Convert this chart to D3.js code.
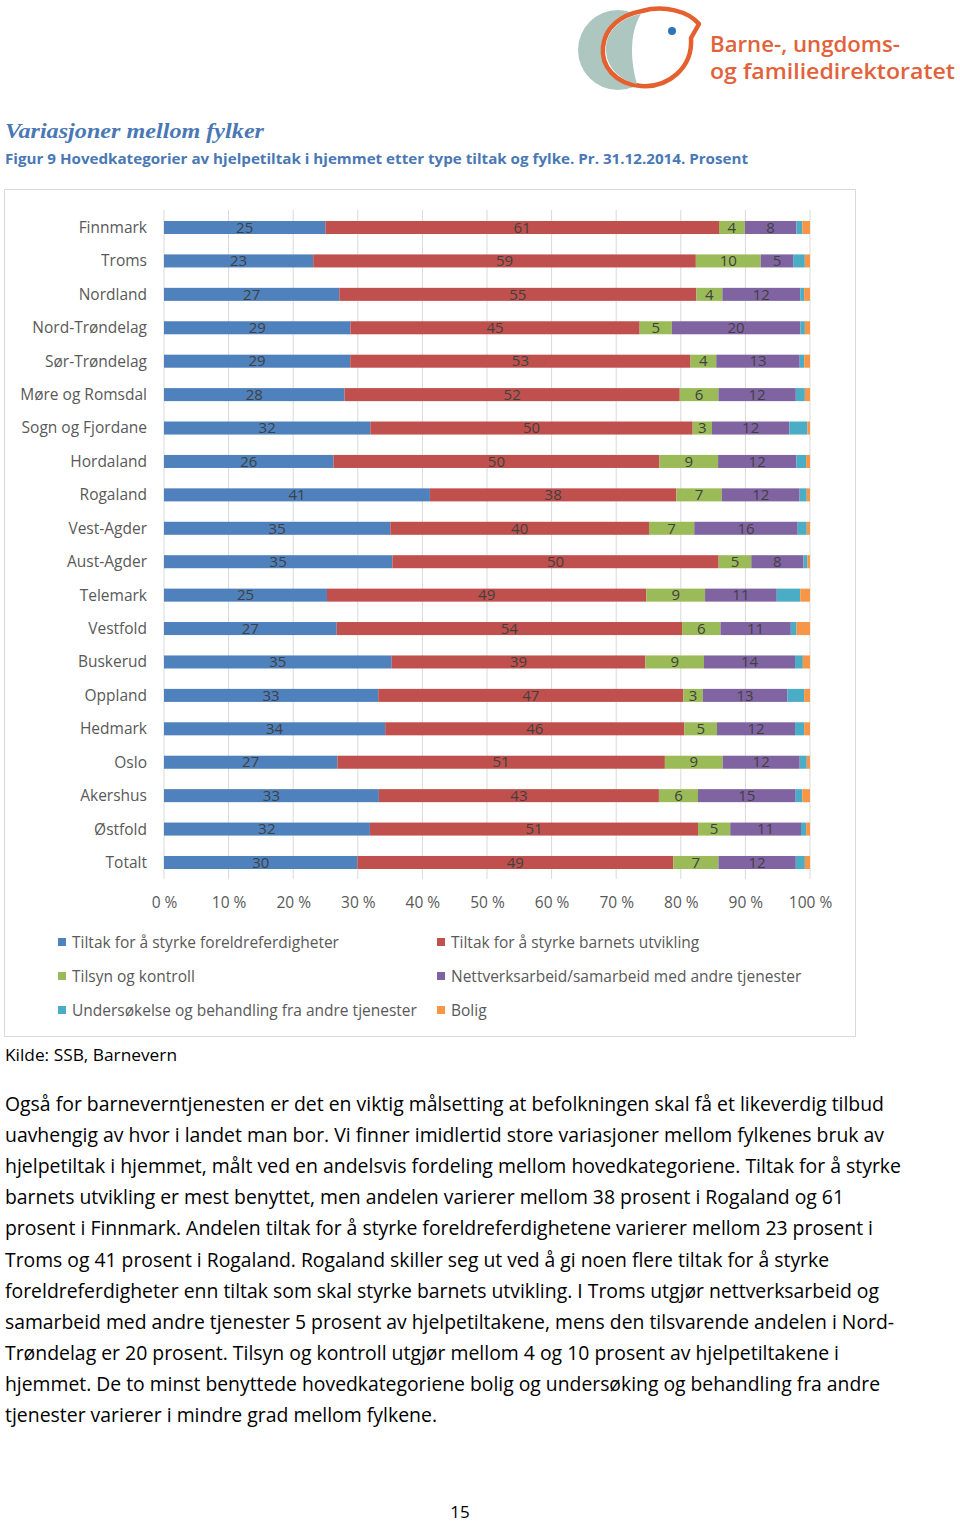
<!DOCTYPE html>
<html><head><meta charset="utf-8">
<script src="https://cdn.jsdelivr.net/npm/d3@7"></script>
<style>body{margin:0;background:#fff}svg{display:block}</style>
</head><body>
<script>
// ---------- DATA ----------
const categories = ["Finnmark","Troms","Nordland","Nord-Trøndelag","Sør-Trøndelag","Møre og Romsdal","Sogn og Fjordane","Hordaland","Rogaland","Vest-Agder","Aust-Agder","Telemark","Vestfold","Buskerud","Oppland","Hedmark","Oslo","Akershus","Østfold","Totalt"];
const seriesNames = ["Tiltak for å styrke foreldreferdigheter","Tiltak for å styrke barnets utvikling","Tilsyn og kontroll","Nettverksarbeid/samarbeid med andre tjenester","Undersøkelse og behandling fra andre tjenester","Bolig"];
const foreldre   = [25,23,27,29,29,28,32,26,41,35,35,25,27,35,33,34,27,33,32,30];
const barnets    = [61,59,55,45,53,52,50,50,38,40,50,49,54,39,47,46,51,43,51,49];
const tilsyn     = [4,10,4,5,4,6,3,9,7,7,5,9,6,9,3,5,9,6,5,7];
const nettverk   = [8,5,12,20,13,12,12,12,12,16,8,11,11,14,13,12,12,15,11,12];
const undersok   = [0.9,1.8,0.6,0.7,0.7,1.4,2.8,1.5,1.1,1.4,0.6,3.6,0.9,1.2,2.6,1.4,1.1,1.0,0.8,1.4];
const bolig      = [1.2,0.8,0.9,0.8,0.9,0.8,0.4,0.6,0.5,0.5,0.4,1.5,2.1,1.1,0.9,0.9,0.5,1.2,0.6,0.8];
const colors = ["#4f81bd","#c0504d","#9bbb59","#8064a2","#4bacc6","#f79646"];
const tickValues = [0,10,20,30,40,50,60,70,80,90,100];
const labelledSeries = 4;

const bodyLines = [
"Også for barneverntjenesten er det en viktig målsetting at befolkningen skal få et likeverdig tilbud",
"uavhengig av hvor i landet man bor. Vi finner imidlertid store variasjoner mellom fylkenes bruk av",
"hjelpetiltak i hjemmet, målt ved en andelsvis fordeling mellom hovedkategoriene. Tiltak for å styrke",
"barnets utvikling er mest benyttet, men andelen varierer mellom 38 prosent i Rogaland og 61",
"prosent i Finnmark. Andelen tiltak for å styrke foreldreferdighetene varierer mellom 23 prosent i",
"Troms og 41 prosent i Rogaland. Rogaland skiller seg ut ved å gi noen flere tiltak for å styrke",
"foreldreferdigheter enn tiltak som skal styrke barnets utvikling. I Troms utgjør nettverksarbeid og",
"samarbeid med andre tjenester 5 prosent av hjelpetiltakene, mens den tilsvarende andelen i Nord-",
"Trøndelag er 20 prosent. Tilsyn og kontroll utgjør mellom 4 og 10 prosent av hjelpetiltakene i",
"hjemmet. De to minst benyttede hovedkategoriene bolig og undersøking og behandling fra andre",
"tjenester varierer i mindre grad mellom fylkene."
];
const bodyWidths = [879,879,896,839,868,824,874,889,834,875,432];

// ---------- BUILD ----------
const W = 960, H = 1524;
const svg = d3.select("body").append("svg").attr("width", W).attr("height", H);
const FONT = "'Open Sans', 'Noto Sans', sans-serif";

// Logo
const logo = svg.append("g");
logo.append("circle").attr("cx", 618).attr("cy", 50).attr("r", 40).attr("fill", "#adc7c0");
logo.append("path")
  .attr("d", "M642,11 C664,5 688,11 699,24 L691,38 C693,68 668,88 641,86 C615,84 601,66 603,47 C605,27 621,15 642,11 Z")
  .attr("fill", "#fff").attr("stroke", "#e5602f").attr("stroke-width", 4.5).attr("stroke-linejoin", "round");
logo.append("path")
  .attr("d", "M641,14 C631,30 629,55 637,84 C619,80 605,66 606,47 C607,30 621,18 641,14 Z")
  .attr("fill", "#adc7c0");
logo.append("circle").attr("cx", 640).attr("cy", 32).attr("r", 4.5).attr("fill", "#fff");
logo.append("circle").attr("cx", 672).attr("cy", 31).attr("r", 4).attr("fill", "#2f74b8");
logo.append("text").attr("x", 710).attr("y", 52).attr("font-family", FONT).attr("font-weight", 600)
  .attr("font-size", 21).attr("fill", "#e1623b").attr("textLength", 190).attr("lengthAdjust", "spacingAndGlyphs")
  .text("Barne-, ungdoms-");
logo.append("text").attr("x", 710).attr("y", 79).attr("font-family", FONT).attr("font-weight", 600)
  .attr("font-size", 21).attr("fill", "#e1623b").attr("textLength", 245).attr("lengthAdjust", "spacingAndGlyphs")
  .text("og familiedirektoratet");

// Titles
svg.append("text").attr("x", 5).attr("y", 138)
  .attr("font-family", "'Liberation Serif', 'DejaVu Serif', serif").attr("font-style", "italic").attr("font-weight", 700)
  .attr("font-size", 22).attr("fill", "#4a78b5").attr("textLength", 259).attr("lengthAdjust", "spacingAndGlyphs")
  .text("Variasjoner mellom fylker");
svg.append("text").attr("x", 5).attr("y", 164)
  .attr("font-family", FONT).attr("font-weight", 700)
  .attr("font-size", 15).attr("fill", "#4a78b5").attr("textLength", 743).attr("lengthAdjust", "spacingAndGlyphs")
  .text("Figur 9 Hovedkategorier av hjelpetiltak i hjemmet etter type tiltak og fylke. Pr. 31.12.2014. Prosent");

// Chart frame
svg.append("rect").attr("x", 4.5).attr("y", 189.5).attr("width", 851).attr("height", 847)
  .attr("fill", "#fff").attr("stroke", "#d9d9d9").attr("stroke-width", 1);

// Scales
const x = d3.scaleLinear().domain([0, 100]).range([164, 810]);
const y = d3.scaleBand().domain(categories).range([210.8, 879.2]).paddingInner(0.61).paddingOuter(0.305);

// Gridlines
svg.append("g").selectAll("line").data(tickValues).join("line")
  .attr("x1", d => x(d)).attr("x2", d => x(d))
  .attr("y1", 210).attr("y2", 879)
  .attr("stroke", "#d9d9d9").attr("stroke-width", 1);

// Stack
const seriesArrays = [foreldre, barnets, tilsyn, nettverk, undersok, bolig];
const rows = categories.map((c, i) => {
  const o = { cat: c };
  seriesArrays.forEach((arr, k) => o["s" + k] = arr[i]);
  return o;
});
const keys = seriesArrays.map((_, k) => "s" + k);
const stacked = d3.stack().keys(keys).offset(d3.stackOffsetExpand)(rows);

const gBars = svg.append("g");
stacked.forEach((layer, k) => {
  const g = gBars.append("g").attr("fill", colors[k]);
  g.selectAll("rect").data(layer).join("rect")
    .attr("x", d => x(d[0] * 100))
    .attr("y", d => y(d.data.cat))
    .attr("width", d => x(d[1] * 100) - x(d[0] * 100))
    .attr("height", y.bandwidth());
});
// Data labels
stacked.slice(0, labelledSeries).forEach((layer, k) => {
  svg.append("g").selectAll("text").data(layer).join("text")
    .attr("x", d => x((d[0] + d[1]) / 2 * 100))
    .attr("y", d => y(d.data.cat) + y.bandwidth() / 2)
    .attr("dy", "0.35em")
    .attr("text-anchor", "middle")
    .attr("font-family", FONT).attr("font-size", 15).attr("fill", "#404040")
    .text(d => d.data["s" + k]);
});

// Category axis
const yAxis = svg.append("g").attr("transform", "translate(147,0)")
  .call(d3.axisLeft(d3.scalePoint().domain(categories).range([y(categories[0]) + y.bandwidth()/2, y(categories[categories.length-1]) + y.bandwidth()/2])).tickSize(0).tickPadding(0));
yAxis.select(".domain").remove();
yAxis.selectAll("text").attr("font-family", FONT).attr("font-size", 15.5).attr("fill", "#595959");

// X axis
const xAxis = svg.append("g").attr("transform", "translate(0,897)")
  .call(d3.axisBottom(x).tickValues(tickValues).tickFormat(d => d + " %").tickSize(0).tickPadding(0));
xAxis.select(".domain").remove();
xAxis.selectAll("text").attr("font-family", FONT).attr("font-size", 15.5).attr("fill", "#595959");

// Legend
const legendPos = [[58, 942], [437, 942], [58, 976], [437, 976], [58, 1010], [437, 1010]];
const lg = svg.append("g");
seriesNames.forEach((name, k) => {
  const [lx, ly] = legendPos[k];
  lg.append("rect").attr("x", lx).attr("y", ly - 4).attr("width", 8).attr("height", 8).attr("fill", colors[k]);
  lg.append("text").attr("x", lx + 14).attr("y", ly + 1).attr("dy", "0.35em")
    .attr("font-family", FONT).attr("font-size", 15.5).attr("fill", "#595959").text(name);
});

// Source
svg.append("text").attr("x", 5).attr("y", 1055).attr("dy", "0.35em")
  .attr("font-family", FONT).attr("font-size", 16.5).attr("fill", "#000")
  .attr("textLength", 172).attr("lengthAdjust", "spacingAndGlyphs")
  .text("Kilde: SSB, Barnevern");

// Body text
svg.append("g").selectAll("text").data(bodyLines).join("text")
  .attr("x", 5).attr("y", (d, i) => 1111 + i * 31.1)
  .attr("font-family", FONT).attr("font-size", 19.5).attr("fill", "#000")
  .attr("textLength", (d, i) => bodyWidths[i]).attr("lengthAdjust", "spacingAndGlyphs")
  .text(d => d);

// Page number
svg.append("text").attr("x", 460).attr("y", 1518).attr("text-anchor", "middle")
  .attr("font-family", FONT).attr("font-size", 17).attr("fill", "#000").text("15");
</script>
</body></html>
